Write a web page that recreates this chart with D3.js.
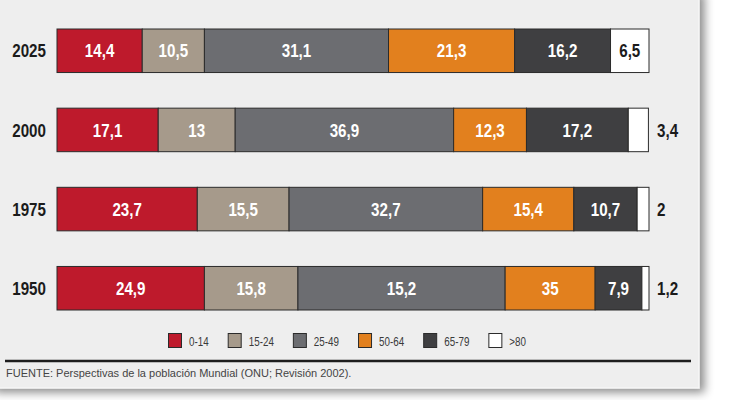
<!DOCTYPE html>
<html>
<head>
<meta charset="utf-8">
<script src="https://cdn.jsdelivr.net/npm/d3@7"></script>
<style>
  html, body { margin: 0; padding: 0; background: #fff; }
  svg { display: block; }
</style>
</head>
<body>
<svg id="chart" width="730" height="400"></svg>
<script>
(function () {
    'use strict';

    var years = ['2025', '2000', '1975', '1950'];
    var groups = ['0-14', '15-24', '25-49', '50-64', '65-79', '>80'];
    var colors = ['#be1a2c', '#a69a8b', '#6c6d71', '#e2801e', '#3f3f41', '#ffffff'];
    var values2025 = [14.4, 10.5, 31.1, 21.3, 16.2, 6.5];
    var values2000 = [17.1, 13, 36.9, 12.3, 17.2, 3.4];
    var values1975 = [23.7, 15.5, 32.7, 15.4, 10.7, 2];
    var values1950 = [24.9, 15.8, 35, 15.2, 7.9, 1.2];
    // the printed graphic swaps the 15,2 and 35 labels in the 1950 row
    var labels1950 = ['24,9', '15,8', '15,2', '35', '7,9', '1,2'];
    var source = 'FUENTE: Perspectivas de la población Mundial (ONU; Revisión 2002).';

    // no narrow face installed, so Liberation Sans is squeezed horizontally
    var FONT = "'Liberation Sans', Arial, sans-serif";
    var NARROW = 0.82;
    var INK = '#1b1b1b';
    var EDGE = '#2b2b2b';

    function toLabel(v) {
        return String(v).replace('.', ',');
    }

    function narrowAt(px, py) {
        return 'translate(' + px + ',' + py + ') scale(' + NARROW + ',1)';
    }

    var rows = [
        { year: years[0], values: values2025 },
        { year: years[1], values: values2000 },
        { year: years[2], values: values1975 },
        { year: years[3], values: values1950, labels: labels1950 }
    ].map(function (row) {
        var ends = d3.cumsum(row.values);
        row.segments = row.values.map(function (v, i) {
            return {
                group: groups[i],
                color: colors[i],
                value: v,
                label: row.labels ? row.labels[i] : toLabel(v),
                x0: ends[i] - v,
                x1: ends[i]
            };
        });
        return row;
    });

    var svg = d3.select('#chart');

    // panel with soft drop shadow
    svg.append('defs').append('filter')
        .attr('id', 'shadow')
        .attr('x', '-5%').attr('y', '-5%')
        .attr('width', '115%').attr('height', '115%')
        .append('feDropShadow')
        .attr('dx', 5).attr('dy', 4)
        .attr('stdDeviation', 5)
        .attr('flood-color', '#000')
        .attr('flood-opacity', 0.45);

    svg.append('rect')
        .attr('x', -10).attr('y', -10)
        .attr('width', 709).attr('height', 398)
        .attr('fill', '#eeeeee')
        .attr('stroke', '#fafafa')
        .attr('stroke-width', 1)
        .attr('filter', 'url(#shadow)');

    var x = d3.scaleLinear().domain([0, 100]).range([57, 649]);
    var y = d3.scaleBand().domain(years).range([29, 310]).paddingInner(0.45).paddingOuter(0);
    var mid = y.bandwidth() / 2;

    var rowGroups = svg.append('g').selectAll('g')
        .data(rows)
        .join('g')
        .attr('transform', function (d) { return 'translate(0,' + y(d.year) + ')'; });

    rowGroups.append('text')
        .attr('transform', narrowAt(46, mid))
        .attr('dy', '0.36em')
        .attr('text-anchor', 'end')
        .attr('font-family', FONT)
        .attr('font-weight', 'bold')
        .attr('font-size', 18.5)
        .attr('fill', INK)
        .text(function (d) { return d.year; });

    rowGroups.selectAll('rect.seg')
        .data(function (d) { return d.segments; })
        .join('rect')
        .attr('class', 'seg')
        .attr('x', function (d) { return x(d.x0); })
        .attr('y', 0)
        .attr('width', function (d) { return x(d.x1) - x(d.x0); })
        .attr('height', y.bandwidth())
        .attr('fill', function (d) { return d.color; })
        .attr('stroke', EDGE)
        .attr('stroke-width', 1);

    rowGroups.selectAll('text.val')
        .data(function (d) { return d.segments; })
        .join('text')
        .attr('class', 'val')
        .attr('transform', function (d) {
            var px = d.value >= 5 ? (x(d.x0) + x(d.x1)) / 2 : x(100) + 8;
            return narrowAt(px, mid);
        })
        .attr('dy', '0.36em')
        .attr('text-anchor', function (d) { return d.value >= 5 ? 'middle' : 'start'; })
        .attr('font-family', FONT)
        .attr('font-weight', 'bold')
        .attr('font-size', 18.5)
        .attr('fill', function (d) {
            return d.value >= 5 && d.color !== '#ffffff' ? '#ffffff' : INK;
        })
        .text(function (d) { return d.label; });

    // legend
    var legend = svg.append('g').attr('transform', 'translate(168,333)');
    var cursor = 0;
    groups.forEach(function (name, i) {
        var item = legend.append('g').attr('transform', 'translate(' + cursor + ',0)');
        item.append('rect')
            .attr('x', 0.5).attr('y', 0.5)
            .attr('width', 13).attr('height', 14)
            .attr('fill', colors[i])
            .attr('stroke', EDGE)
            .attr('stroke-width', 1);
        var label = item.append('text')
            .attr('transform', narrowAt(21, 13))
            .attr('font-family', FONT)
            .attr('font-size', 12)
            .attr('fill', '#3a3a3a')
            .text(name);
        cursor += 21 + label.node().getComputedTextLength() * NARROW + 19;
    });

    svg.append('line')
        .attr('x1', 5).attr('x2', 691)
        .attr('y1', 361).attr('y2', 361)
        .attr('stroke', '#1e1e1e')
        .attr('stroke-width', 2.5);

    svg.append('text')
        .attr('x', 6)
        .attr('y', 377)
        .attr('font-family', FONT)
        .attr('font-size', 11)
        .attr('fill', '#444')
        .text(source);
})();
</script>
</body>
</html>
